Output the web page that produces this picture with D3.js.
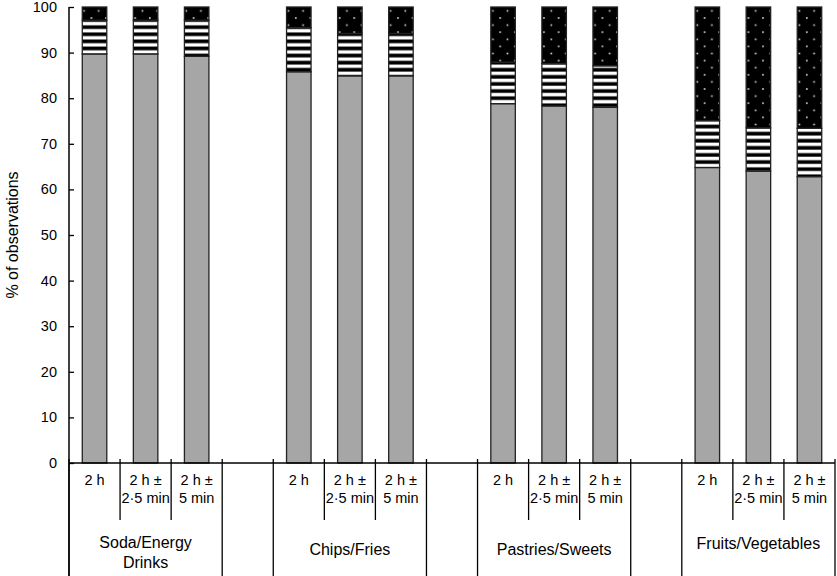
<!DOCTYPE html>
<html>
<head>
<meta charset="utf-8">
<script src="https://cdn.jsdelivr.net/npm/d3@7/dist/d3.min.js"></script>
<style>
  body { margin: 0; background: #fff; }
  svg text { font-family: "Liberation Sans", Arial, Helvetica, sans-serif; fill: #000; }
</style>
</head>
<body>
<svg id="chart" width="837" height="576"></svg>
<script>
// food categories and time windows
var categories = ['Soda/Energy Drinks', 'Chips/Fries', 'Pastries/Sweets', 'Fruits/Vegetables'];
var categoryLines = [['Soda/Energy', 'Drinks'], ['Chips/Fries'], ['Pastries/Sweets'], ['Fruits/Vegetables']];
var windows = ['2 h', '2 h ± 2·5 min', '2 h ± 5 min'];
var windowLines = [['2 h'], ['2 h ±', '2·5 min'], ['2 h ±', '5 min']];

// % of observations, one row per category, one value per window
var solidGrey = [[89.7, 89.7, 89.2], [85.8, 84.9, 84.9], [78.8, 78.3, 78.0], [64.8, 64.0, 62.8]];
var striped   = [[7.4, 7.4, 7.9], [9.7, 9.3, 9.3], [9.1, 9.3, 9.1], [10.3, 9.5, 10.6]];
var dotted    = [[2.9, 2.9, 2.9], [4.5, 5.8, 5.8], [12.1, 12.4, 12.9], [24.9, 26.5, 26.6]];

var yTicks = [0, 10, 20, 30, 40, 50, 60, 70, 80, 90, 100];

(function() {
    var svg = d3.select('#chart');
    var plotLeft = 69, plotRight = 835, plotTop = 7, plotBottom = 463;

    // patterns
    var defs = svg.append('defs');
    var stripes = defs.append('pattern').attr('id', 'stripes')
        .attr('patternUnits', 'userSpaceOnUse').attr('width', 8).attr('height', 7.1);
    stripes.append('rect').attr('width', 8).attr('height', 7.1).attr('fill', '#000');
    stripes.append('rect').attr('y', 0.6).attr('width', 8).attr('height', 3.4).attr('fill', '#fff');

    var dots = defs.append('pattern').attr('id', 'dots')
        .attr('patternUnits', 'userSpaceOnUse').attr('width', 14.6).attr('height', 14.2);
    dots.append('rect').attr('width', 14.6).attr('height', 14.2).attr('fill', '#000');
    dots.append('rect').attr('x', 3).attr('y', 3).attr('width', 1.6).attr('height', 1.6).attr('fill', '#ddd');
    dots.append('rect').attr('x', 10.3).attr('y', 10.1).attr('width', 1.6).attr('height', 1.6).attr('fill', '#ddd');

    // slots: three bars per category plus an empty slot between categories
    var slots = [];
    categories.forEach(function(c, i) {
        windows.forEach(function(w, j) { slots.push(i + '-' + j); });
        if (i < categories.length - 1) slots.push('gap' + i);
    });

    var x = d3.scaleBand().domain(slots).range([plotLeft, plotRight]).paddingInner(0.52).paddingOuter(0.26);
    var step = x.step();
    var y = d3.scaleLinear().domain([0, 100]).range([plotBottom, plotTop]);

    var rows = [];
    categories.forEach(function(c, i) {
        windows.forEach(function(w, j) {
            rows.push({ key: i + '-' + j, grey: solidGrey[i][j], stripe: striped[i][j], dot: dotted[i][j] });
        });
    });

    var stack = d3.stack().keys(['grey', 'stripe', 'dot']);
    var fills = { grey: '#a6a6a6', stripe: 'url(#stripes)', dot: 'url(#dots)' };

    svg.append('g').selectAll('g')
        .data(stack(rows))
        .join('g')
        .attr('fill', function(d) { return fills[d.key]; })
        .selectAll('rect')
        .data(function(d) { return d; })
        .join('rect')
        .attr('x', function(d) { return x(d.data.key); })
        .attr('width', x.bandwidth())
        .attr('y', function(d) { return y(d[1]); })
        .attr('height', function(d) { return y(d[0]) - y(d[1]); })
        .attr('stroke', '#222')
        .attr('stroke-width', 1.3);

    // y axis, ticks pointing inward
    var yAxis = svg.append('g').attr('transform', 'translate(' + plotLeft + ',0)')
        .call(d3.axisRight(y).tickValues(yTicks).tickSize(5).tickFormat(''));
    yAxis.select('.domain').remove();
    yAxis.selectAll('line').attr('stroke', '#000').attr('stroke-width', 1.3);

    svg.append('g').selectAll('text')
        .data(yTicks)
        .join('text')
        .attr('x', 57)
        .attr('y', function(d) { return y(d) + 5; })
        .attr('text-anchor', 'end')
        .style('font-size', '14.5px')
        .text(function(d) { return d; });

    svg.append('text')
        .attr('transform', 'translate(18,' + ((plotTop + plotBottom) / 2) + ') rotate(-90)')
        .attr('text-anchor', 'middle')
        .style('font-size', '16px')
        .text('% of observations');

    // axis lines
    svg.append('line').attr('x1', plotLeft).attr('x2', plotLeft).attr('y1', plotTop).attr('y2', 576)
        .attr('stroke', '#000').attr('stroke-width', 1.5);
    svg.append('line').attr('x1', plotLeft).attr('x2', plotRight).attr('y1', plotBottom).attr('y2', plotBottom)
        .attr('stroke', '#000').attr('stroke-width', 1.5);

    // dividers and labels under the axis
    categories.forEach(function(c, i) {
        var x0 = x(i + '-0') - (step - x.bandwidth()) / 2;
        for (var k = 0; k <= 3; k++) {
            var xx = x0 + k * step;
            var edge = (k === 0 || k === 3);
            svg.append('line')
                .attr('x1', xx).attr('x2', xx)
                .attr('y1', 459).attr('y2', edge ? 576 : 520)
                .attr('stroke', '#000').attr('stroke-width', 1.3);
        }
        windows.forEach(function(w, j) {
            var cx = x(i + '-' + j) + x.bandwidth() / 2;
            svg.append('text')
                .attr('text-anchor', 'middle')
                .style('font-size', '14.5px')
                .selectAll('tspan')
                .data(windowLines[j])
                .join('tspan')
                .attr('x', cx)
                .attr('y', function(d, n) { return 485 + n * 18; })
                .text(function(d) { return d; });
        });
        var mid = x0 + step * 1.5;
        var lines = categoryLines[i];
        var base = lines.length > 1 ? 548 : 555;
        if (i === 3) base = 549;
        svg.append('text')
            .attr('text-anchor', 'middle')
            .style('font-size', '16px')
            .selectAll('tspan')
            .data(lines)
            .join('tspan')
            .attr('x', mid)
            .attr('y', function(d, n) { return base + n * 20; })
            .text(function(d) { return d; });
    });
})();
</script>
</body>
</html>
